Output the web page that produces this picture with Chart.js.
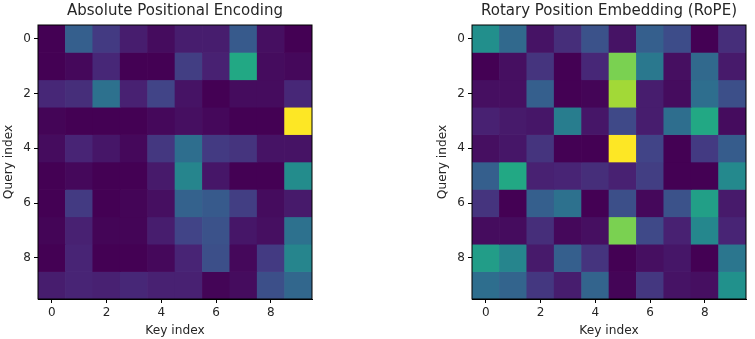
<!DOCTYPE html>
<html>
<head>
<meta charset="utf-8">
<script src="https://cdn.jsdelivr.net/npm/chart.js@4.4.1/dist/chart.umd.min.js"></script>
<style>
  html, body { margin: 0; padding: 0; background: #fff; }
  #wrap { position: relative; width: 755px; height: 339px; overflow: hidden; }
  canvas { position: absolute; top: 0; }
</style>
</head>
<body>
<div id="wrap">
  <canvas id="absChart" width="350" height="339" style="left:0px"></canvas>
  <canvas id="ropeChart" width="350" height="339" style="left:434px"></canvas>
</div>
<script>
// Heatmap data (rows = query index, columns = key index)
const keyIndex = [0, 1, 2, 3, 4, 5, 6, 7, 8, 9];
const queryIndex = [0, 1, 2, 3, 4, 5, 6, 7, 8, 9];
const tickValues = [0, 2, 4, 6, 8];

const absoluteWeights = [
    [0.00, 0.30, 0.17, 0.08, 0.03, 0.08, 0.08, 0.28, 0.04, 0.00],
    [0.00, 0.02, 0.11, 0.00, 0.00, 0.18, 0.09, 0.60, 0.03, 0.02],
    [0.11, 0.13, 0.37, 0.09, 0.20, 0.05, 0.00, 0.03, 0.03, 0.11],
    [0.01, 0.00, 0.00, 0.00, 0.02, 0.04, 0.02, 0.00, 0.00, 1.00],
    [0.03, 0.10, 0.06, 0.02, 0.16, 0.36, 0.17, 0.15, 0.05, 0.05],
    [0.00, 0.02, 0.00, 0.00, 0.07, 0.45, 0.06, 0.00, 0.00, 0.48],
    [0.00, 0.17, 0.00, 0.01, 0.04, 0.31, 0.28, 0.18, 0.03, 0.07],
    [0.01, 0.09, 0.01, 0.01, 0.08, 0.20, 0.25, 0.06, 0.04, 0.37],
    [0.00, 0.10, 0.00, 0.00, 0.02, 0.10, 0.24, 0.02, 0.17, 0.45],
    [0.08, 0.10, 0.09, 0.11, 0.09, 0.09, 0.01, 0.03, 0.24, 0.33]
];

const ropeWeights = [
    [0.49, 0.34, 0.05, 0.13, 0.25, 0.05, 0.30, 0.23, 0.00, 0.13],
    [0.00, 0.04, 0.15, 0.00, 0.11, 0.80, 0.40, 0.04, 0.34, 0.07],
    [0.04, 0.04, 0.30, 0.00, 0.01, 0.86, 0.08, 0.03, 0.36, 0.24],
    [0.09, 0.07, 0.06, 0.42, 0.06, 0.22, 0.08, 0.36, 0.60, 0.03],
    [0.04, 0.06, 0.15, 0.00, 0.00, 1.00, 0.20, 0.00, 0.17, 0.29],
    [0.30, 0.60, 0.09, 0.10, 0.13, 0.09, 0.18, 0.00, 0.00, 0.47],
    [0.15, 0.00, 0.30, 0.37, 0.00, 0.24, 0.02, 0.25, 0.56, 0.07],
    [0.03, 0.03, 0.13, 0.02, 0.04, 0.80, 0.22, 0.09, 0.46, 0.10],
    [0.55, 0.45, 0.07, 0.30, 0.15, 0.00, 0.04, 0.06, 0.00, 0.39],
    [0.36, 0.32, 0.16, 0.08, 0.32, 0.01, 0.16, 0.05, 0.04, 0.50]
];

// viridis colour stops
const viridisStops = [
    [68, 1, 84], [72, 36, 117], [65, 68, 135], [53, 95, 141], [42, 120, 142],
    [33, 145, 140], [34, 168, 132], [68, 191, 112], [122, 209, 81], [189, 223, 38], [253, 231, 37]
];

function viridis(t) {
    t = Math.max(0, Math.min(1, t));
    const pos = t * (viridisStops.length - 1);
    const i = Math.min(Math.floor(pos), viridisStops.length - 2);
    const f = pos - i;
    const a = viridisStops[i], b = viridisStops[i + 1];
    const c = a.map((v, k) => Math.round(v + (b[k] - v) * f));
    return 'rgb(' + c.join(',') + ')';
}

const textColor = '#262626';
const fontFamily = "'DejaVu Sans', sans-serif";

// draws the top/right spines too
const framePlugin = {
    id: 'frame',
    afterDraw(chart) {
        const { ctx, chartArea } = chart;
        ctx.save();
        ctx.strokeStyle = '#000';
        ctx.lineWidth = 1;
        ctx.strokeRect(chartArea.left, chartArea.top, chartArea.right - chartArea.left, chartArea.bottom - chartArea.top);
        ctx.restore();
    }
};

function makeHeatmap(canvasId, title, rows) {
    const flat = rows.flat();
    const lo = Math.min(...flat);
    const hi = Math.max(...flat);

    const datasets = rows.map(function(row, r) {
        return {
            data: row.map(function(v, c) {
                return { x: keyIndex[c], y: [queryIndex[r] - 0.5, queryIndex[r] + 0.5] };
            }),
            backgroundColor: row.map(v => viridis((v - lo) / (hi - lo))),
            borderWidth: 0,
            grouped: false,
            barPercentage: 1,
            categoryPercentage: 1
        };
    });

    const axisCommon = {
        type: 'linear',
        min: -0.5,
        max: 9.5,
        afterBuildTicks: function(axis) {
            axis.ticks = tickValues.map(v => ({ value: v }));
        },
        grid: {
            display: true,
            offset: false,
            drawOnChartArea: false,
            drawTicks: true,
            tickLength: 4,
            tickColor: '#000'
        },
        border: { display: true, color: '#000', width: 1 },
        ticks: {
            color: textColor,
            font: { family: fontFamily, size: 12 },
            padding: 3,
            autoSkip: false,
            maxRotation: 0
        }
    };

    return new Chart(document.getElementById(canvasId).getContext('2d'), {
        type: 'bar',
        data: { datasets: datasets },
        plugins: [framePlugin],
        options: {
            responsive: false,
            animation: false,
            layout: { padding: 0 },
            plugins: {
                legend: { display: false },
                tooltip: { enabled: false },
                title: {
                    display: true,
                    text: title,
                    color: textColor,
                    font: { family: fontFamily, size: 15, weight: 'normal' },
                    padding: { top: 2, bottom: 5 }
                }
            },
            scales: {
                x: Object.assign({}, axisCommon, {
                    position: 'bottom',
                    offset: false,
                    afterFit: function(scale) { scale.height = 40; },
                    title: {
                        display: true,
                        text: 'Key index',
                        color: textColor,
                        font: { family: fontFamily, size: 12.2 },
                        padding: { top: 0, bottom: 1 }
                    }
                }),
                y: Object.assign({}, axisCommon, {
                    position: 'left',
                    reverse: true,
                    afterFit: function(scale) { scale.width = 38; },
                    title: {
                        display: true,
                        text: 'Query index',
                        color: textColor,
                        font: { family: fontFamily, size: 12.2 },
                        padding: { top: 2, bottom: 0 }
                    }
                }),
                // empty spacer on the right so the title centres over the plot
                spacer: {
                    type: 'linear',
                    position: 'right',
                    grid: { display: false },
                    border: { display: false },
                    ticks: { display: false },
                    afterFit: function(scale) { scale.width = 38; }
                }
            }
        }
    });
}

document.addEventListener('DOMContentLoaded', function() {
    makeHeatmap('absChart', 'Absolute Positional Encoding', absoluteWeights);
    makeHeatmap('ropeChart', 'Rotary Position Embedding (RoPE)', ropeWeights);
});
</script>
</body>
</html>
